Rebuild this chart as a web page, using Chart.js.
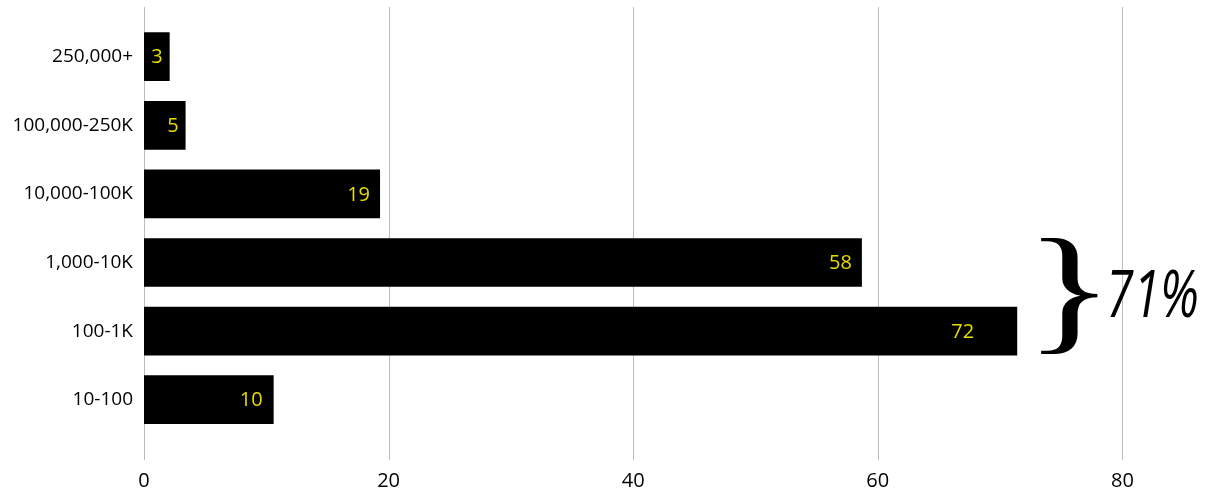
<!DOCTYPE html>
<html>
<head>
<meta charset="utf-8">
<script src="https://cdn.jsdelivr.net/npm/chart.js@4/dist/chart.umd.min.js"></script>
<style>
  html, body { margin: 0; padding: 0; background: #fff; }
  #wrap { width: 1212px; height: 491px; position: relative; }
</style>
</head>
<body>
<div id="wrap"><canvas id="sizeChart"></canvas></div>
<script>
// Data
const categories = ['250,000+', '100,000-250K', '10,000-100K', '1,000-10K', '100-1K', '10-100'];
const barValues = [2.1, 3.4, 19.3, 58.7, 71.4, 10.6];
const valueLabels = ['3', '5', '19', '58', '72', '10'];
const xTicks = [0, 20, 40, 60, 80];
const bracketLabel = '71%';
const bracketRows = ['1,000-10K', '100-1K'];

const FONT = "'Open Sans', 'Noto Sans', sans-serif";

// Grid lines in the reference run past the plot area, so draw them here
const extendedGrid = {
  id: 'extendedGrid',
  beforeDatasetsDraw(chart) {
    const { ctx, scales: { x } } = chart;
    ctx.save();
    ctx.strokeStyle = '#bcbcbc';
    ctx.lineWidth = 1;
    xTicks.forEach(v => {
      const px = Math.round(x.getPixelForValue(v)) + 0.5;
      ctx.beginPath();
      ctx.moveTo(px, 7);
      ctx.lineTo(px, 460);
      ctx.stroke();
    });
    ctx.restore();
  }
};

// Value labels in yellow, inside the bar end
const labelInset = [7, 7, 10, 10, 43, 11];
const barLabels = {
  id: 'barLabels',
  afterDatasetsDraw(chart) {
    const { ctx } = chart;
    const meta = chart.getDatasetMeta(0);
    ctx.save();
    ctx.fillStyle = '#e6dc00';
    ctx.font = '20px ' + FONT;
    ctx.textAlign = 'right';
    ctx.textBaseline = 'middle';
    meta.data.forEach((bar, i) => {
      ctx.fillText(valueLabels[i], bar.x - labelInset[i], bar.y + 1);
    });
    ctx.restore();
  }
};

// Brace + percentage on the right
const bracket = {
  id: 'bracket',
  afterDraw(chart) {
    const { ctx, scales: { y } } = chart;
    const top = y.getPixelForValue(categories.indexOf(bracketRows[0])) - 24;
    const bottom = y.getPixelForValue(categories.indexOf(bracketRows[1])) + 22;
    const h = bottom - top;

    ctx.save();
    ctx.fillStyle = '#000';
    ctx.textAlign = 'left';
    ctx.textBaseline = 'alphabetic';
    ctx.font = '130px "Liberation Serif", serif';
    const m = ctx.measureText('}');
    const gh = m.actualBoundingBoxAscent + m.actualBoundingBoxDescent;
    const gw = m.actualBoundingBoxLeft + m.actualBoundingBoxRight;
    ctx.translate(1040, top);
    ctx.scale(58 / gw, h / gh);
    ctx.fillText('}', m.actualBoundingBoxLeft, m.actualBoundingBoxAscent);
    ctx.restore();

    ctx.save();
    ctx.fillStyle = '#000';
    ctx.font = 'italic 66px ' + FONT;
    ctx.textAlign = 'left';
    ctx.textBaseline = 'alphabetic';
    const t = ctx.measureText(bracketLabel);
    const tw = t.actualBoundingBoxLeft + t.actualBoundingBoxRight;
    ctx.translate(1110, 317);
    ctx.scale(87 / tw, 1);
    ctx.fillText(bracketLabel, t.actualBoundingBoxLeft, 0);
    ctx.restore();
  }
};

new Chart(document.getElementById('sizeChart'), {
  type: 'bar',
  data: {
    labels: categories,
    datasets: [{
      data: barValues,
      backgroundColor: '#000',
      borderWidth: 0,
      barPercentage: 0.71,
      categoryPercentage: 1
    }]
  },
  options: {
    indexAxis: 'y',
    responsive: true,
    maintainAspectRatio: false,
    animation: false,
    layout: { padding: { top: 20, right: 4, left: 0, bottom: 0 } },
    plugins: {
      legend: { display: false },
      tooltip: { enabled: false }
    },
    scales: {
      x: {
        min: 0,
        max: 87,
        afterBuildTicks: scale => {
          scale.ticks = xTicks.map(v => ({ value: v }));
        },
        grid: { display: false, drawTicks: false },
        border: { display: false },
        ticks: {
          padding: 35,
          color: '#000',
          font: { family: FONT, size: 20 }
        },
        afterFit: scale => { scale.height = 57; }
      },
      y: {
        grid: { display: false, drawTicks: false },
        border: { display: false },
        ticks: {
          padding: 11,
          color: '#000',
          font: { family: FONT, size: 19 }
        },
        afterFit: scale => { scale.width = 144; }
      }
    }
  },
  plugins: [extendedGrid, barLabels, bracket]
});
</script>
</body>
</html>
